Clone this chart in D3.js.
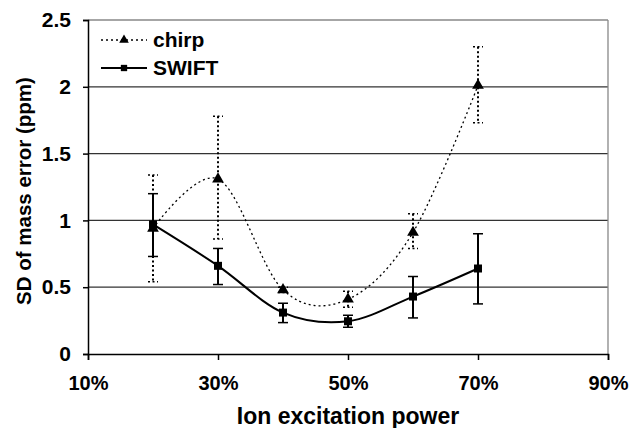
<!DOCTYPE html>
<html>
<head>
<meta charset="utf-8">
<script src="https://cdn.jsdelivr.net/npm/d3@7"></script>
<style>
  body { margin: 0; background: #fff; }
  text { font-family: "Liberation Sans", Arial, sans-serif; font-weight: bold; fill: #000; }
</style>
</head>
<body>
<div id="chart"></div>
<script>
var powers = [20, 30, 40, 50, 60, 70];
var xTicks = [10, 30, 50, 70, 90];
var yTicks = [0, 0.5, 1, 1.5, 2, 2.5];

var chirpMean = [0.94, 1.31, 0.48, 0.41, 0.91, 2.01];
var chirpHigh = [1.34, 1.78, 0.50, 0.47, 1.05, 2.30];
var chirpLow  = [0.54, 0.86, 0.46, 0.35, 0.79, 1.73];

var swiftMean = [0.97, 0.66, 0.31, 0.245, 0.43, 0.64];
var swiftHigh = [1.20, 0.79, 0.38, 0.29, 0.58, 0.90];
var swiftLow  = [0.73, 0.52, 0.235, 0.20, 0.27, 0.375];

var width = 633, height = 428;
var margin = {left: 88, right: 25, top: 20, bottom: 74};

var svg = d3.select("#chart").append("svg")
    .attr("width", width)
    .attr("height", height);

var x = d3.scaleLinear().domain([10, 90]).range([margin.left, width - margin.right]);
var y = d3.scaleLinear().domain([0, 2.5]).range([height - margin.bottom, margin.top]);

// gridlines
svg.selectAll(".grid")
    .data(yTicks.slice(1))
    .enter().append("line")
    .attr("x1", x(10)).attr("x2", x(90))
    .attr("y1", function(d) { return y(d); })
    .attr("y2", function(d) { return y(d); })
    .attr("stroke", function(d) { return d === 2.5 ? "#888" : "#333"; })
    .attr("stroke-width", 1.3);

// right border of plot area
svg.append("line")
    .attr("x1", x(90)).attr("x2", x(90))
    .attr("y1", y(2.5)).attr("y2", y(0))
    .attr("stroke", "#888").attr("stroke-width", 1.3);

// axes
var xAxis = svg.append("g")
    .attr("transform", "translate(0," + y(0) + ")")
    .call(d3.axisBottom(x).tickValues(xTicks).tickSize(6).tickPadding(16)
        .tickFormat(function(d) { return d + "%"; }));
xAxis.selectAll("text").style("font-size", "20px");
xAxis.selectAll("path, line").attr("stroke", "#000").attr("stroke-width", 1.5);

var yAxis = svg.append("g")
    .attr("transform", "translate(" + x(10) + ",0)")
    .call(d3.axisLeft(y).tickValues(yTicks).tickSize(5).tickPadding(12)
        .tickFormat(d3.format("")));
yAxis.selectAll("text").style("font-size", "21px");
yAxis.selectAll("path, line").attr("stroke", "#000").attr("stroke-width", 1.5);

// axis titles
svg.append("text")
    .attr("x", x(50)).attr("y", 424)
    .attr("text-anchor", "middle")
    .style("font-size", "23px")
    .text("Ion excitation power");

svg.append("text")
    .attr("transform", "translate(31," + ((y(0) + y(2.5)) / 2 + 4) + ") rotate(-90)")
    .attr("text-anchor", "middle")
    .style("font-size", "20.5px")
    .text("SD of mass error (ppm)");

var line = d3.line()
    .x(function(d) { return x(d.p); })
    .y(function(d) { return y(d.v); })
    .curve(d3.curveCatmullRom.alpha(0));

function pack(mean, hi, lo) {
  return powers.map(function(p, i) { return {p: p, v: mean[i], hi: hi[i], lo: lo[i]}; });
}

var series = [
  {name: "chirp", data: pack(chirpMean, chirpHigh, chirpLow), dash: "2,3", width: 1.3, errDash: "2,2.5", errW: 2, shape: d3.symbolTriangle},
  {name: "SWIFT", data: pack(swiftMean, swiftHigh, swiftLow), dash: null, width: 2, errDash: null, errW: 2, shape: d3.symbolSquare}
];

series.forEach(function(s) {
  var g = svg.append("g");
  g.append("path")
      .datum(s.data)
      .attr("d", line)
      .attr("fill", "none")
      .attr("stroke", "#000")
      .attr("stroke-width", s.width)
      .attr("stroke-dasharray", s.dash);

  var eb = g.selectAll(".err").data(s.data).enter().append("g");
  eb.append("line")
      .attr("x1", function(d) { return x(d.p); })
      .attr("x2", function(d) { return x(d.p); })
      .attr("y1", function(d) { return y(d.hi); })
      .attr("y2", function(d) { return y(d.lo); })
      .attr("stroke", "#000").attr("stroke-width", s.errW)
      .attr("stroke-dasharray", s.errDash);
  ["hi", "lo"].forEach(function(k) {
    eb.append("line")
        .attr("x1", function(d) { return x(d.p) - 5; })
        .attr("x2", function(d) { return x(d.p) + 5; })
        .attr("y1", function(d) { return y(d[k]); })
        .attr("y2", function(d) { return y(d[k]); })
        .attr("stroke", "#000").attr("stroke-width", 1.5)
        .attr("stroke-dasharray", s.errDash);
  });

  g.selectAll(".pt").data(s.data).enter().append("path")
      .attr("transform", function(d) { return "translate(" + x(d.p) + "," + y(d.v) + ")"; })
      .attr("d", d3.symbol().type(s.shape).size(s.shape === d3.symbolSquare ? 64 : 60))
      .attr("fill", "#000");
});

// legend
var legend = svg.append("g");
series.forEach(function(s, i) {
  var ly = 40 + i * 28;
  legend.append("line")
      .attr("x1", 101).attr("x2", 147)
      .attr("y1", ly).attr("y2", ly)
      .attr("stroke", "#000")
      .attr("stroke-width", s.width)
      .attr("stroke-dasharray", s.dash);
  legend.append("path")
      .attr("transform", "translate(124," + ly + ")")
      .attr("d", d3.symbol().type(s.shape).size(40))
      .attr("fill", "#000");
  legend.append("text")
      .attr("x", 153).attr("y", ly + 7)
      .style("font-size", "21px")
      .text(s.name);
});
</script>
</body>
</html>
